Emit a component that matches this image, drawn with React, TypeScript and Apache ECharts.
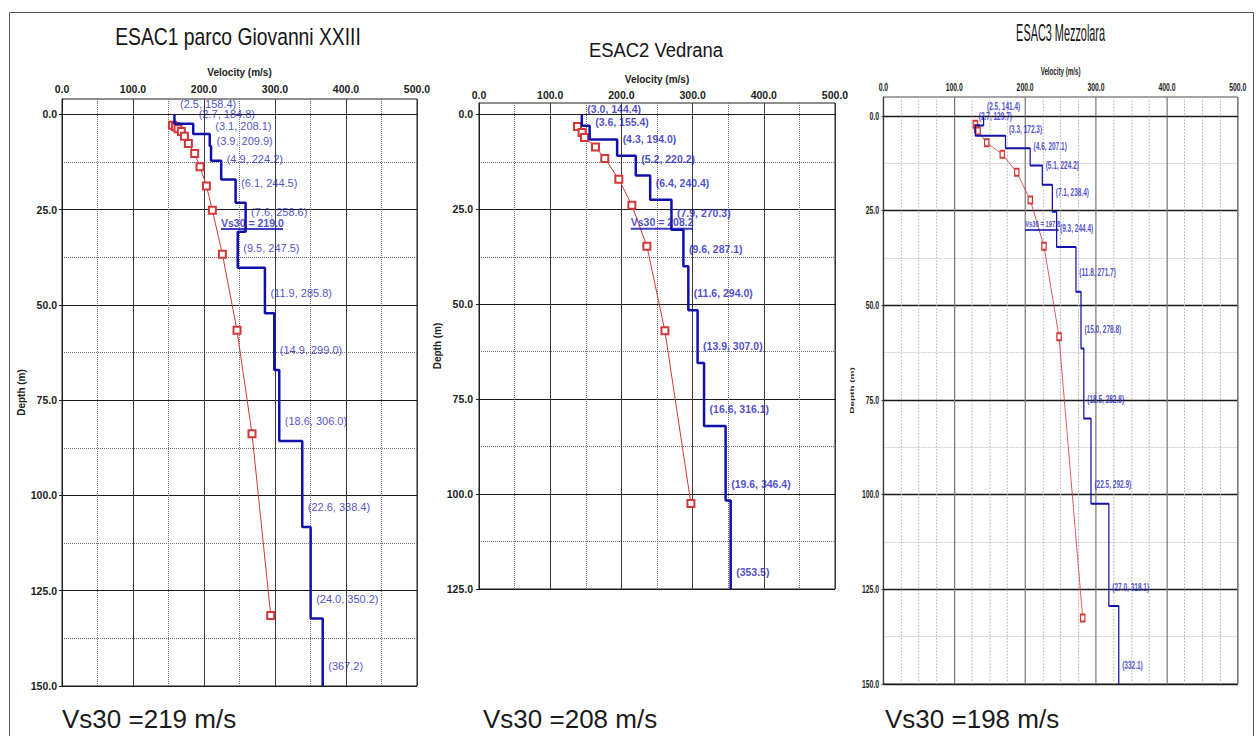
import React, { useEffect, useRef } from "react";
import * as echarts from "echarts";

// ---------- data ----------
const titles = ["ESAC1 parco Giovanni XXIII", "ESAC2 Vedrana", "ESAC3 Mezzolara"];
const bottomTexts = ["Vs30 =219 m/s", "Vs30 =208 m/s", "Vs30 =198 m/s"];

const velocityTicks = [0, 100, 200, 300, 400, 500];
const depthMajor150 = [0, 25, 50, 75, 100, 125, 150];
const depthMinor150 = [12.5, 37.5, 62.5, 87.5, 112.5, 137.5];
const depthMajor125 = [0, 25, 50, 75, 100, 125];
const depthMinor125 = [12.5, 37.5, 62.5, 87.5, 112.5];

// ESAC1 layers: thickness (m) and Vs (m/s); last velocity = half-space
const thick1 = [2.5, 2.7, 3.1, 3.9, 4.9, 6.1, 7.6, 9.5, 11.9, 14.9, 18.6, 22.6, 24.0];
const vel1 = [158.4, 184.8, 208.1, 209.9, 224.2, 244.5, 258.6, 247.5, 285.8, 299.0, 306.0, 338.4, 350.2, 367.2];
const vs30_1 = 219.0;
const redDepth1 = [2.9, 3.3, 3.8, 4.5, 5.8, 7.7, 10.3, 13.8, 18.8, 25.2, 36.7, 56.7, 83.8, 131.5];
const redVel1 = [155.5, 159.7, 163.4, 168.1, 172.4, 178.0, 186.9, 194.4, 203.4, 211.8, 225.9, 246.5, 267.6, 294.0];

// ESAC2
const thick2 = [3.0, 3.6, 4.3, 5.2, 6.4, 7.9, 9.6, 11.6, 13.9, 16.6, 19.6];
const vel2 = [144.4, 155.4, 194.0, 220.2, 240.4, 270.3, 287.1, 294.0, 307.0, 316.1, 346.4, 353.5];
const vs30_2 = 208.2;
const redDepth2 = [3.2, 4.8, 6.1, 8.6, 11.6, 17.1, 23.9, 34.7, 57.0, 102.5];
const redVel2 = [138.3, 144.8, 148.2, 163.6, 176.7, 196.4, 214.7, 235.8, 261.1, 297.6];

// ESAC3
const thick3 = [2.5, 2.7, 3.3, 4.6, 5.1, 7.1, 9.3, 11.8, 15.0, 18.5, 22.5, 27.0];
const vel3 = [141.4, 129.7, 172.3, 207.1, 224.2, 238.4, 244.4, 271.7, 278.8, 282.8, 292.9, 318.1, 332.1];
const vs30_3 = 197.8;
const redDepth3 = [2.2, 3.3, 4.0, 7.1, 10.1, 14.9, 22.2, 34.4, 58.3, 132.6];
const redVel3 = [129.8, 131.7, 133.6, 145.8, 167.8, 188.2, 207.3, 226.6, 247.8, 281.2];

// ---------- styling ----------
const FONT = "'Liberation Sans', Arial, sans-serif";
const AXIS_TEXT = "#1a221a";
const BLUE = "#1010aa";
const BLUE_TEXT = "#1c1cc0";
const RED = "#d23838";
const S3 = 0.6196; // horizontal compression of third panel
const W3 = 673;

function stepPath(thick: number[], vel: number[], maxDepth: number) {
  const pts: number[][] = [];
  let d = 0;
  thick.forEach((h, i) => {
    pts.push([vel[i], d]);
    d = +(d + h).toFixed(2);
    pts.push([vel[i], d]);
  });
  const last = vel[vel.length - 1];
  pts.push([last, d]);
  pts.push([last, maxDepth]);
  return pts;
}

function layerLabels(thick: number[], vel: number[], maxDepth: number) {
  const out: any[] = [];
  let d = 0;
  thick.forEach((h, i) => {
    d = +(d + h).toFixed(2);
    out.push({ value: [vel[i], d], name: `(${h.toFixed(1)}, ${vel[i].toFixed(1)})` });
  });
  const last = vel[vel.length - 1];
  out.push({ value: [last, maxDepth], name: `(${last.toFixed(1)})` });
  return out;
}

function buildPanel(p: number, c: any) {
  const grid = {
    left: c.left, top: c.top, width: c.width, height: c.height,
    show: true, borderColor: "#1e1e1e", borderWidth: 1, containLabel: false,
  };
  const xAxis = {
    gridIndex: p, type: "value", position: "top", min: 0, max: 500, interval: 100,
    name: "Velocity (m/s)", nameLocation: "middle", nameGap: c.xNameGap,
    nameTextStyle: { fontFamily: FONT, fontWeight: "bold", fontSize: c.nameSize, color: AXIS_TEXT },
    axisLine: { show: true, lineStyle: { color: "#1e1e1e", width: 1 } },
    axisTick: { show: false },
    axisLabel: {
      margin: c.xLabelMargin, formatter: (v: number) => v.toFixed(1),
      customValues: velocityTicks,
      fontFamily: FONT, fontWeight: "bold", fontSize: c.tickSize, color: AXIS_TEXT,
    },
    splitLine: { show: true, lineStyle: { color: c.vMajorColor, width: c.vMajorWidth } },
    minorTick: { show: false, splitNumber: c.xMinorSplit },
    minorSplitLine: { show: true, lineStyle: { color: c.minorColor, type: "dotted", width: c.vMinorWidth } },
  };
  const yMajor = {
    gridIndex: p, type: "value", inverse: true, min: c.yMin, max: c.yMax, position: "left",
    name: "Depth (m)", nameLocation: "middle", nameGap: c.yNameGap,
    nameTextStyle: { fontFamily: FONT, fontWeight: "bold", fontSize: c.nameSize, color: AXIS_TEXT },
    axisLine: { show: true, lineStyle: { color: "#1e1e1e", width: 1 } },
    axisTick: { show: true, customValues: c.major, length: 3, lineStyle: { color: "#1e1e1e" } },
    axisLabel: {
      customValues: c.major, margin: c.yLabelMargin, formatter: (v: number) => v.toFixed(1),
      fontFamily: FONT, fontWeight: "bold", fontSize: c.tickSize, color: AXIS_TEXT,
    },
    splitLine: { show: true, lineStyle: { color: "#1a1a1a", width: c.hMajorWidth } },
  };
  const yMinor = {
    gridIndex: p, type: "value", inverse: true, min: c.yMin, max: c.yMax, position: "left",
    axisLine: { show: false },
    axisTick: { show: false, customValues: c.minor },
    axisLabel: { show: false, customValues: c.minor },
    splitLine: { show: true, lineStyle: { color: c.minorColor, type: "dotted", width: c.hMinorWidth } },
  };
  const xi = p;
  const yi = p * 2;
  const red = c.redVel.map((v: number, i: number) => [v, c.redDepth[i]]);
  const series = [
    {
      type: "line", xAxisIndex: xi, yAxisIndex: yi, data: red, silent: true,
      symbol: "emptyRect", symbolSize: c.markerSize,
      lineStyle: { color: RED, width: 1 }, itemStyle: { color: RED, borderWidth: 1 }, z: 3,
    },
    {
      type: "line", xAxisIndex: xi, yAxisIndex: yi, silent: true,
      data: stepPath(c.thick, c.vel, c.yMax), symbol: "none",
      lineStyle: { color: BLUE, width: c.lineWidth }, z: 4,
    },
    {
      type: "scatter", xAxisIndex: xi, yAxisIndex: yi, silent: true,
      data: layerLabels(c.thick, c.vel, c.yMax), symbol: "circle", symbolSize: 1,
      itemStyle: { color: "rgba(0,0,0,0)" }, z: 5,
      label: {
        show: true, position: "right", distance: c.labelDist, offset: [0, c.labelOffset],
        formatter: "{b}", color: BLUE_TEXT, fontFamily: FONT, fontSize: c.labelSize,
        fontWeight: c.labelWeight,
      },
    },
    {
      type: "scatter", xAxisIndex: xi, yAxisIndex: yi, silent: true,
      data: [{ value: [c.vs30, 30], name: `Vs30 = ${c.vs30.toFixed(1)}` }],
      symbol: "circle", symbolSize: 1, itemStyle: { color: "rgba(0,0,0,0)" }, z: 6,
      label: {
        show: true, position: "right", distance: c.vsDist, offset: [0, -5],
        formatter: "{t|{b}}\n{u|}",
        rich: {
          t: { color: BLUE_TEXT, fontFamily: FONT, fontWeight: "bold", fontSize: c.vsSize, lineHeight: 11 },
          u: { width: c.vsWidth, height: 2, lineHeight: 2, backgroundColor: BLUE },
        },
      },
    },
  ];
  return { grid, xAxis, yAxes: [yMajor, yMinor], series };
}

const panel1 = buildPanel(0, {
  left: 62, top: 99, width: 355, height: 587, yMin: -4, yMax: 150,
  major: depthMajor150, minor: depthMinor150, xMinorSplit: 2,
  xNameGap: 22, xLabelMargin: 5, yNameGap: 36, yLabelMargin: 5,
  nameSize: 10, tickSize: 10.5,
  vMajorColor: "#3a3a3a", vMajorWidth: 1, hMajorWidth: 1, minorColor: "#707070", vMinorWidth: 1, hMinorWidth: 1,
  thick: thick1, vel: vel1, vs30: vs30_1, redVel: redVel1, redDepth: redDepth1,
  markerSize: 7, lineWidth: 2.5, labelDist: 5, labelOffset: -20, labelSize: 11, labelWeight: "normal",
  vsDist: 3, vsSize: 10.5, vsWidth: 62,
});

const panel2 = buildPanel(1, {
  left: 479, top: 103, width: 356, height: 486, yMin: -3, yMax: 125,
  major: depthMajor125, minor: depthMinor125, xMinorSplit: 2,
  xNameGap: 18, xLabelMargin: 3, yNameGap: 36, yLabelMargin: 6,
  nameSize: 10, tickSize: 10.5,
  vMajorColor: "#3a3a3a", vMajorWidth: 1, hMajorWidth: 1, minorColor: "#707070", vMinorWidth: 1, hMinorWidth: 1,
  thick: thick2, vel: vel2, vs30: vs30_2, redVel: redVel2, redDepth: redDepth2,
  markerSize: 7, lineWidth: 2.5, labelDist: 5, labelOffset: -17, labelSize: 10.5, labelWeight: "bold",
  vsDist: 3, vsSize: 10.5, vsWidth: 62,
});

const panel3 = buildPanel(0, {
  left: 70, top: 97, width: 572, height: 587, yMin: -5, yMax: 150,
  major: depthMajor150, minor: depthMinor150, xMinorSplit: 4,
  xNameGap: 21, xLabelMargin: 4, yNameGap: 36, yLabelMargin: 7,
  nameSize: 10, tickSize: 11,
  vMajorColor: "#7a7a7a", vMajorWidth: 2, hMajorWidth: 1.3, minorColor: "#b0b0b0", vMinorWidth: 1.6, hMinorWidth: 1,
  thick: thick3, vel: vel3, vs30: vs30_3, redVel: redVel3, redDepth: redDepth3,
  markerSize: 7, lineWidth: 2, labelDist: 5, labelOffset: -19, labelSize: 10.5, labelWeight: "bold",
  vsDist: 2, vsSize: 9.5, vsWidth: 54,
});

function titleText(text: string, x: number, y: number, size: number, sx: number) {
  return {
    type: "text", x, y, scaleX: sx, silent: true,
    style: { text, fontFamily: FONT, fontSize: size, fill: "#141414", align: "center", verticalAlign: "middle" },
  };
}

function bottomText(text: string, x: number) {
  return {
    type: "text", x, y: 719, silent: true,
    style: { text, fontFamily: FONT, fontSize: 26, fill: "#1a1a1a", align: "left", verticalAlign: "middle" },
  };
}

const mainOption = {
  animation: false,
  backgroundColor: "#ffffff",
  grid: [panel1.grid, panel2.grid],
  xAxis: [panel1.xAxis, panel2.xAxis],
  yAxis: [...panel1.yAxes, ...panel2.yAxes],
  series: [...panel1.series, ...panel2.series],
  graphic: [
    {
      type: "rect", silent: true, z: -10,
      shape: { x: 9.5, y: 12.5, width: 1244, height: 800 },
      style: { fill: "none", stroke: "#555", lineWidth: 1 },
    },
    titleText(titles[0], 238, 37, 23, 0.84),
    titleText(titles[1], 656, 50, 19.5, 0.945),
    bottomText(bottomTexts[0], 62),
    bottomText(bottomTexts[1], 483),
    bottomText(bottomTexts[2], 885),
  ],
};

const panel3Option = {
  animation: false,
  grid: [panel3.grid],
  xAxis: [panel3.xAxis],
  yAxis: panel3.yAxes,
  series: panel3.series,
  graphic: [titleText(titles[2], 356, 33, 23, 0.764)],
};

export default function App() {
  const mainRef = useRef<HTMLDivElement>(null);
  const p3Ref = useRef<HTMLDivElement>(null);
  useEffect(() => {
    const c1 = echarts.init(mainRef.current as HTMLDivElement, undefined, { renderer: "svg" });
    c1.setOption(mainOption as any);
    const c2 = echarts.init(p3Ref.current as HTMLDivElement, undefined, { renderer: "svg" });
    c2.setOption(panel3Option as any);
    return () => {
      c1.dispose();
      c2.dispose();
    };
  }, []);
  return (
    <div>
      <div
        ref={mainRef}
        style={{ position: "fixed", left: 0, top: 0, width: 1257, height: 736, background: "#fff" }}
      />
      <div
        ref={p3Ref}
        style={{
          position: "fixed", left: 840, top: 0, width: W3, height: 736,
          transform: `scaleX(${S3})`, transformOrigin: "0 0",
        }}
      />
    </div>
  );
}
